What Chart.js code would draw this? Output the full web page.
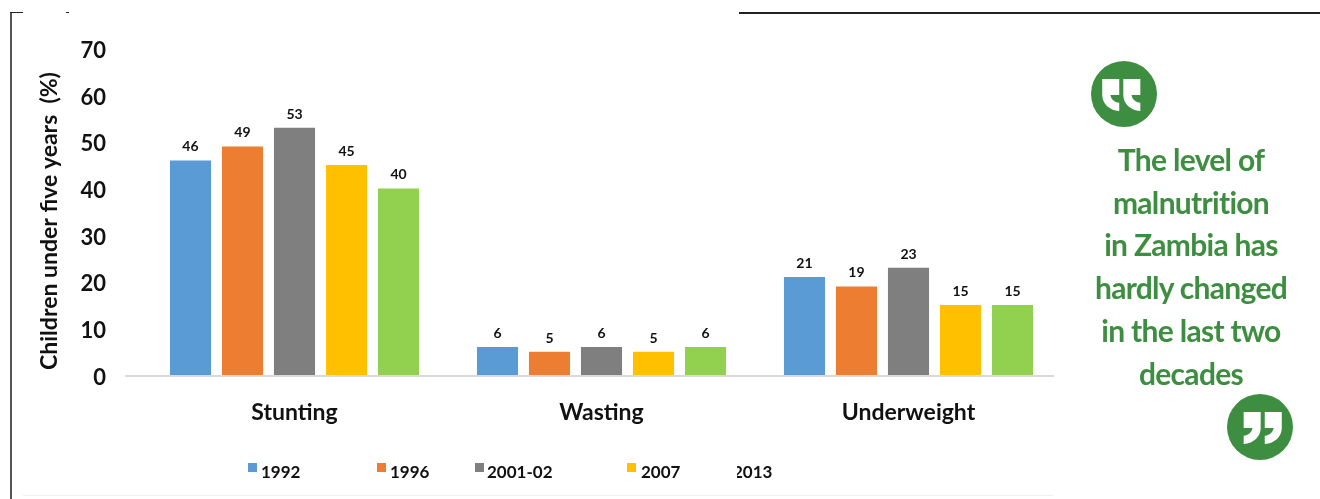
<!DOCTYPE html>
<html>
<head>
<meta charset="utf-8">
<title>Malnutrition in Zambia</title>
<script src="https://cdn.jsdelivr.net/npm/chart.js@4"></script>
<style>
  html, body { margin: 0; padding: 0; background: #fff; }
  body { position: relative; width: 1320px; height: 499px; overflow: hidden; }
  #chart { position: absolute; left: 0; top: 0; }
  .rule { position: absolute; background: #222; }
  #quote {
    position: absolute; left: 1061px; top: 138px; width: 260px;
    text-align: center; color: #3e8e41;
    font: 700 30px/42.7px Lato, sans-serif; letter-spacing: -0.7px;
  }
  .mark { position: absolute; width: 66px; height: 66px; }
</style>
</head>
<body>
<canvas id="chart" width="1320" height="499"></canvas>

<div class="rule" style="left:10px;top:12px;width:2px;height:487px;background:#555"></div>
<div class="rule" style="left:10px;top:12px;width:13px;height:1px"></div>
<div class="rule" style="left:66px;top:12px;width:3px;height:1px"></div>
<div class="rule" style="left:739px;top:12px;width:581px;height:2px"></div>
<div class="rule" style="left:23px;top:495px;width:1030px;height:1px;background:#f0f0f0"></div>

<svg class="mark" style="left:1091px;top:61px" viewBox="95 185 194 194">
  <circle cx="192" cy="282" r="97" fill="#3e8e41"/>
  <path fill="#fff" d="M128 238H178V285H152C154 298 164 306 178 308V332C148 330 128 310 128 285ZM190 238H240V285H214C216 298 226 306 240 308V332C210 330 190 310 190 285Z"/>
</svg>
<div id="quote">The level of<br>malnutrition<br>in Zambia has<br>hardly changed<br>in the last two<br>decades</div>
<svg class="mark" style="left:1227px;top:394px" viewBox="95 185 194 194">
  <circle cx="192" cy="282" r="97" fill="#3e8e41"/>
  <path fill="#fff" transform="translate(384 0) scale(-1 1)" d="M128 238H178V285H152C154 298 164 306 178 308V332C148 330 128 310 128 285ZM190 238H240V285H214C216 298 226 306 240 308V332C210 330 190 310 190 285Z"/>
</svg>

<script>
const categories = ["Stunting", "Wasting", "Underweight"];
const years = ["1992", "1996", "2001-02", "2007", "2013"];
const values1992 = [46, 6, 21];
const values1996 = [49, 5, 19];
const values2001 = [53, 6, 23];
const values2007 = [45, 5, 15];
const values2013 = [40, 6, 15];
const yTicks = [0, 10, 20, 30, 40, 50, 60, 70];

const colors = ["#5b9bd5", "#ed7d31", "#7f7f7f", "#ffc000", "#92d050"];
const seriesValues = [values1992, values1996, values2001, values2007, values2013];
const FONT = "Lato, sans-serif";
const INK = "#111";

/* legend sits at uneven spots in the original, last marker is cut away */
const legendSpots = [
  { box: 248, text: 261 },
  { box: 377, text: 390 },
  { box: 475, text: 487 },
  { box: 627, text: 641 },
  { box: null, text: 733, clip: 737 }
];

const extras = {
  id: "extras",
  afterDatasetsDraw(chart) {
    const c = chart.ctx;
    const base = chart.scales.y.getPixelForValue(0);

    // baseline runs a bit left of the first group
    c.save();
    c.fillStyle = "#d9d9d9";
    c.fillRect(125, base, 929, 2);

    // value labels
    c.fillStyle = INK;
    c.font = "700 14px " + FONT;
    c.textAlign = "center";
    c.textBaseline = "alphabetic";
    chart.data.datasets.forEach((ds, i) => {
      chart.getDatasetMeta(i).data.forEach((bar, j) => {
        c.fillText(ds.data[j], bar.x, bar.y - 9);
      });
    });

    // axis title
    c.save();
    c.translate(50, 221);
    c.rotate(-Math.PI / 2);
    c.font = "700 23px " + FONT;
    c.textBaseline = "middle";
    c.fillText("Children under five years  (%)", 0, 0);
    c.restore();

    // legend
    c.font = "700 17px " + FONT;
    c.textAlign = "left";
    c.textBaseline = "middle";
    years.forEach((y, i) => {
      const spot = legendSpots[i];
      if (spot.box !== null) {
        c.fillStyle = colors[i];
        c.fillRect(spot.box, 463, 9, 9);
      }
      c.save();
      if (spot.clip) {
        c.beginPath();
        c.rect(spot.clip, 455, 60, 35);
        c.clip();
      }
      c.fillStyle = INK;
      c.fillText(y, spot.text, 473);
      c.restore();
    });
    c.restore();
  }
};

new Chart(document.getElementById("chart"), {
  type: "bar",
  data: {
    labels: categories,
    datasets: years.map((y, i) => ({
      label: y,
      data: seriesValues[i],
      backgroundColor: colors[i],
      categoryPercentage: 0.847,
      barPercentage: 0.79
    }))
  },
  options: {
    responsive: false,
    animation: false,
    layout: { padding: { left: 41, right: 258, top: 48.5, bottom: 64 } },
    plugins: { legend: { display: false }, tooltip: { enabled: false } },
    scales: {
      x: {
        grid: { display: false, drawTicks: false },
        border: { display: false },
        ticks: { color: INK, padding: 24, font: { family: FONT, size: 23, weight: "700" } },
        afterFit: s => { s.height = 60; }
      },
      y: {
        min: 0,
        max: 70,
        grid: { display: false, drawTicks: false },
        border: { display: false },
        afterBuildTicks: s => { s.ticks = yTicks.map(v => ({ value: v })); },
        ticks: { color: INK, padding: 35, labelOffset: 2.5, font: { family: FONT, size: 22, weight: "700" } },
        afterFit: s => { s.width = 100; }
      }
    }
  },
  plugins: [extras]
});
</script>
</body>
</html>
